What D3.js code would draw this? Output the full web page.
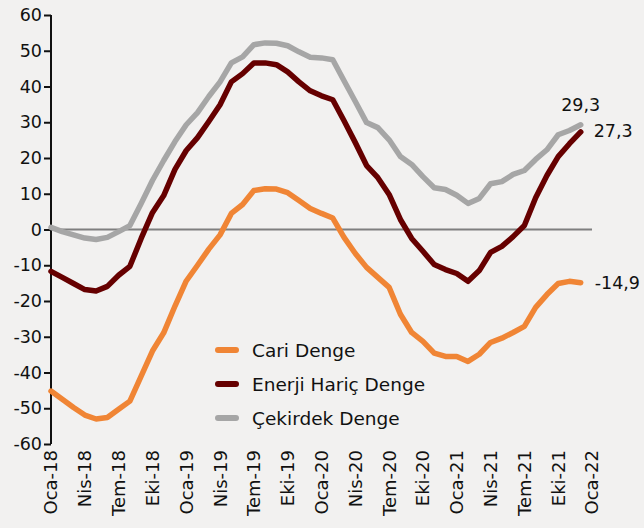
<!DOCTYPE html>
<html>
<head>
<meta charset="utf-8">
<script src="https://cdnjs.cloudflare.com/ajax/libs/d3/7.8.5/d3.min.js"></script>
<style>
    body {
        margin: 0;
        background: #f2f1f0;
    }
    #graph text {
        font-family: "DejaVu Sans", sans-serif;
        fill: #111;
    }
</style>
</head>
<body>
<div id="graph"></div>
<script>
/*************************************** DATA *********************************************/

var months = [
    "Oca-18", "Şub-18", "Mar-18", "Nis-18", "May-18", "Haz-18", "Tem-18", "Ağu-18", "Eyl-18", "Eki-18", "Kas-18", "Ara-18",
    "Oca-19", "Şub-19", "Mar-19", "Nis-19", "May-19", "Haz-19", "Tem-19", "Ağu-19", "Eyl-19", "Eki-19", "Kas-19", "Ara-19",
    "Oca-20", "Şub-20", "Mar-20", "Nis-20", "May-20", "Haz-20", "Tem-20", "Ağu-20", "Eyl-20", "Eki-20", "Kas-20", "Ara-20",
    "Oca-21", "Şub-21", "Mar-21", "Nis-21", "May-21", "Haz-21", "Tem-21", "Ağu-21", "Eyl-21", "Eki-21", "Kas-21", "Ara-21",
    "Oca-22"
];

var tickLabels = ["Oca-18", "Nis-18", "Tem-18", "Eki-18", "Oca-19", "Nis-19", "Tem-19", "Eki-19",
    "Oca-20", "Nis-20", "Tem-20", "Eki-20", "Oca-21", "Nis-21", "Tem-21", "Eki-21", "Oca-22"];

var yTicks = [-60, -50, -40, -30, -20, -10, 0, 10, 20, 30, 40, 50, 60];

var cariDenge = [
    -45.2, -47.5, -49.8, -51.9, -53.0, -52.6, -50.3, -48.0, -41.0, -34.0, -28.9, -21.4,
    -14.4, -10.0, -5.5, -1.5, 4.5, 7.0, 10.9, 11.4, 11.3, 10.3, 8.1, 5.9,
    4.5, 3.2, -2.2, -6.7, -10.6, -13.4, -16.2, -23.7, -28.8, -31.3, -34.6, -35.5,
    -35.5, -36.9, -34.9, -31.6, -30.4, -28.8, -27.1, -21.8, -18.2, -15.1, -14.5, -14.9
];

var enerjiHaric = [
    -11.7, -13.4, -15.1, -16.8, -17.2, -15.9, -12.8, -10.3, -2.5, 4.7, 9.5, 16.8,
    22.1, 25.7, 30.2, 34.9, 41.3, 43.6, 46.6, 46.6, 46.1, 44.1, 41.3, 38.8,
    37.4, 36.3, 30.4, 24.3, 17.9, 14.5, 9.8, 2.8, -2.5, -6.1, -9.8, -11.2,
    -12.3, -14.5, -11.5, -6.4, -4.7, -2.0, 1.1, 8.9, 15.1, 20.4, 24.0, 27.3
];

var cekirdek = [
    0.6, -0.6, -1.5, -2.4, -2.8, -2.2, -0.6, 1.1, 7.3, 13.7, 19.3, 24.6,
    29.3, 32.7, 37.2, 41.3, 46.6, 48.3, 51.7, 52.2, 52.1, 51.4, 49.7, 48.2,
    48.0, 47.5, 41.6, 35.8, 29.9, 28.5, 25.1, 20.4, 18.2, 14.8, 11.7, 11.2,
    9.6, 7.3, 8.7, 12.8, 13.4, 15.4, 16.5, 19.6, 22.3, 26.5, 27.7, 29.3
];

var seriesNames = ["Cari Denge", "Enerji Hariç Denge", "Çekirdek Denge"];
var seriesColors = ["#f08535", "#660000", "#a6a6a6"];
var lastLabels = ["-14,9", "27,3", "29,3"];

/*************************************** GRAPH *********************************************/

var margin = {
        top: 15,
        right: 52,
        bottom: 84,
        left: 51
    },
    width = 644 - margin.left - margin.right,
    height = 528 - margin.top - margin.bottom;

var x = d3.scalePoint().domain(months).range([0, width]);

var y = d3.scaleLinear().domain([-60, 60]).range([height, 0]);

var svg = d3.select("#graph").append("svg")
    .attr("width", width + margin.left + margin.right)
    .attr("height", height + margin.top + margin.bottom)
    .append("g")
    .attr("transform", "translate(" + margin.left + "," + margin.top + ")");

// zero line (category axis)
svg.append("line")
    .attr("x1", 0)
    .attr("x2", x("Oca-22"))
    .attr("y1", y(0))
    .attr("y2", y(0))
    .attr("stroke", "#7f7f7f")
    .attr("stroke-width", 2);

// y axis
var yAxis = d3.axisLeft(y)
    .tickValues(yTicks)
    .tickSize(7)
    .tickPadding(5)
    .tickFormat(function(d) { return String(d); });

var yg = svg.append("g")
    .attr("class", "y axis")
    .call(yAxis);

yg.select(".domain").attr("stroke", "#111").attr("stroke-width", 2).attr("d", "M0," + y(60) + "V" + y(-60));
yg.selectAll(".tick line").attr("stroke", "#111").attr("stroke-width", 2);
yg.selectAll(".tick text")
    .style("font-size", "17.5px")
    .attr("x", -9)
    .attr("fill", "#111");

// x labels
svg.append("g")
    .attr("class", "x labels")
    .selectAll("text")
    .data(tickLabels)
    .enter()
    .append("text")
    .attr("transform", function(d) {
        return "translate(" + x(d) + "," + (height + 6) + ") rotate(-90)";
    })
    .attr("dy", "0.36em")
    .style("text-anchor", "end")
    .style("font-size", "18px")
    .text(function(d) { return d; });

// lines
var line = d3.line()
    .x(function(d, i) {
        return x(months[i]);
    })
    .y(function(d) {
        return y(d);
    });

var allSeries = [cariDenge, enerjiHaric, cekirdek];

allSeries.forEach(function(s, k) {
    svg.append("path")
        .datum(s)
        .attr("fill", "none")
        .attr("stroke", seriesColors[k])
        .attr("stroke-width", 5.5)
        .attr("stroke-linejoin", "round")
        .attr("stroke-linecap", "round")
        .attr("d", line);
});

// end labels
var lastX = x(months[47]);

svg.append("text")
    .attr("x", lastX + 14)
    .attr("y", y(cariDenge[47]))
    .attr("dy", "0.36em")
    .style("font-size", "17.5px")
    .text(lastLabels[0]);

svg.append("text")
    .attr("x", lastX + 13)
    .attr("y", y(enerjiHaric[47]) - 1)
    .attr("dy", "0.36em")
    .style("font-size", "17.5px")
    .text(lastLabels[1]);

svg.append("text")
    .attr("x", lastX)
    .attr("y", y(cekirdek[47]) - 14)
    .style("text-anchor", "middle")
    .style("font-size", "17.5px")
    .text(lastLabels[2]);

// legend
var legend = svg.append("g")
    .attr("transform", "translate(" + (218 - margin.left) + "," + (350 - margin.top) + ")");

seriesNames.forEach(function(name, k) {
    var g = legend.append("g").attr("transform", "translate(0," + (k * 34) + ")");
    g.append("line")
        .attr("x1", 0)
        .attr("x2", 18)
        .attr("stroke", seriesColors[k])
        .attr("stroke-width", 6)
        .attr("stroke-linecap", "round");
    g.append("text")
        .attr("x", 34)
        .attr("dy", "0.36em")
        .style("font-size", "18.5px")
        .text(name);
});
</script>
</body>
</html>
